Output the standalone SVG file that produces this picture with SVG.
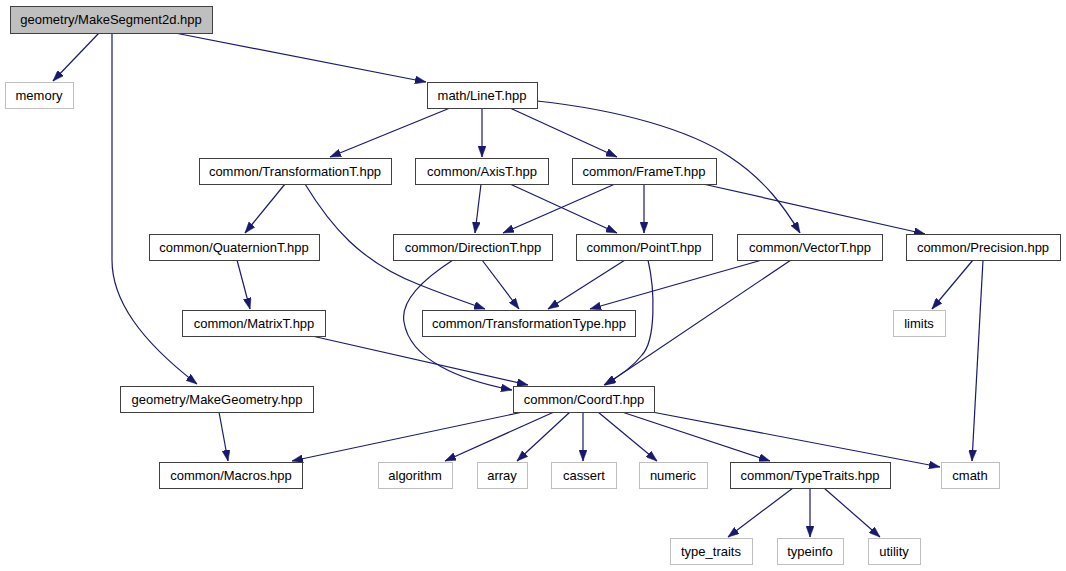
<svg xmlns="http://www.w3.org/2000/svg" width="1066" height="571" viewBox="0 0 1066 571">
<style>
.n rect{fill:#fff;stroke:#404040;stroke-width:1}
.s rect{fill:#fff;stroke:#bfbfbf;stroke-width:1}
.m rect{fill:#bfbfbf;stroke:#404040;stroke-width:1}
text{font-family:"Liberation Sans",Arial,sans-serif;font-size:13px;fill:#000;text-anchor:middle}
#edges path{fill:none;stroke:#191970;stroke-width:1.2;marker-end:url(#a)}
</style>
<defs>
<marker id="a" markerUnits="userSpaceOnUse" viewBox="0 0 11 8" markerWidth="11" markerHeight="8" refX="11" refY="4" orient="auto">
<path d="M0,0 L11,4 L0,8 z" fill="#191970" stroke="#191970" stroke-width="0.5"/>
</marker>
</defs>
<rect width="1066" height="571" fill="#fff"/>
<g id="edges">
<path d="M99,33 L53,81"/>
<path d="M175,33 L426,82"/>
<path d="M112,33 L112,260 C112,300 140,340 197,384"/>
<path d="M450,108 L330,157"/>
<path d="M482,108 L482,157"/>
<path d="M510,108 L617,157"/>
<path d="M537,101 C620,110 690,130 730,157 C765,180 785,208 800,233"/>
<path d="M615,184 L503,233"/>
<path d="M644,184 L644,233"/>
<path d="M703,184 L925,234"/>
<path d="M481,184 L475,233"/>
<path d="M510,184 L617,233"/>
<path d="M285,184 L245,233"/>
<path d="M305,184 C330,225 360,262 420,285 C445,295 465,302 485,309"/>
<path d="M237,260 L250,309"/>
<path d="M312,336 L528,385"/>
<path d="M482,260 L519,309"/>
<path d="M453,260 C425,278 400,300 404,322 C410,360 460,380 512,390"/>
<path d="M625,260 L548,309"/>
<path d="M648,260 C655,290 656,340 642,355 C632,368 618,377 604,385"/>
<path d="M762,260 L590,309"/>
<path d="M791,260 L605,385"/>
<path d="M973,260 L932,309"/>
<path d="M983,260 L972,461"/>
<path d="M219,412 L228,461"/>
<path d="M523,412 L292,461"/>
<path d="M554,412 L445,461"/>
<path d="M570,412 L517,461"/>
<path d="M583,412 L583,461"/>
<path d="M598,412 L657,461"/>
<path d="M622,412 L770,461"/>
<path d="M652,412 L940,467"/>
<path d="M793,488 L728,537"/>
<path d="M810,488 L810,537"/>
<path d="M824,488 L880,537"/>
</g>
<g id="MakeSegment2d" class="m"><rect x="10.5" y="6.5" width="202" height="27"/><text x="111" y="24">geometry/MakeSegment2d.hpp</text></g>
<g id="memory" class="s"><rect x="5.5" y="82.5" width="68" height="26"/><text x="39" y="100">memory</text></g>
<g id="LineT" class="n"><rect x="427.5" y="82.5" width="110" height="26"/><text x="482" y="100">math/LineT.hpp</text></g>
<g id="TransformationT" class="n"><rect x="199.5" y="158.5" width="192" height="26"/><text x="295" y="176">common/TransformationT.hpp</text></g>
<g id="AxisT" class="n"><rect x="415.5" y="158.5" width="133" height="26"/><text x="482" y="176">common/AxisT.hpp</text></g>
<g id="FrameT" class="n"><rect x="572.5" y="158.5" width="144" height="26"/><text x="644" y="176">common/FrameT.hpp</text></g>
<g id="QuaternionT" class="n"><rect x="149.5" y="234.5" width="170" height="26"/><text x="234" y="252">common/QuaternionT.hpp</text></g>
<g id="DirectionT" class="n"><rect x="393.5" y="234.5" width="159" height="26"/><text x="473" y="252">common/DirectionT.hpp</text></g>
<g id="PointT" class="n"><rect x="576.5" y="234.5" width="136" height="26"/><text x="644" y="252">common/PointT.hpp</text></g>
<g id="VectorT" class="n"><rect x="737.5" y="234.5" width="145" height="26"/><text x="810" y="252">common/VectorT.hpp</text></g>
<g id="Precision" class="n"><rect x="906.5" y="234.5" width="154" height="26"/><text x="983" y="252">common/Precision.hpp</text></g>
<g id="MatrixT" class="n"><rect x="182.5" y="310.5" width="143" height="26"/><text x="254" y="328">common/MatrixT.hpp</text></g>
<g id="TransformationType" class="n"><rect x="422.5" y="310.5" width="213" height="26"/><text x="529" y="328">common/TransformationType.hpp</text></g>
<g id="limits" class="s"><rect x="893.5" y="310.5" width="52" height="26"/><text x="919" y="328">limits</text></g>
<g id="MakeGeometry" class="n"><rect x="120.5" y="386.5" width="193" height="26"/><text x="217" y="404">geometry/MakeGeometry.hpp</text></g>
<g id="CoordT" class="n"><rect x="513.5" y="386.5" width="141" height="26"/><text x="584" y="404">common/CoordT.hpp</text></g>
<g id="Macros" class="n"><rect x="159.5" y="462.5" width="143" height="26"/><text x="231" y="480">common/Macros.hpp</text></g>
<g id="algorithm" class="s"><rect x="378.5" y="462.5" width="74" height="26"/><text x="415" y="480">algorithm</text></g>
<g id="array" class="s"><rect x="477.5" y="462.5" width="50" height="26"/><text x="502" y="480">array</text></g>
<g id="cassert" class="s"><rect x="551.5" y="462.5" width="65" height="26"/><text x="584" y="480">cassert</text></g>
<g id="numeric" class="s"><rect x="639.5" y="462.5" width="68" height="26"/><text x="673" y="480">numeric</text></g>
<g id="TypeTraits" class="n"><rect x="730.5" y="462.5" width="160" height="26"/><text x="810" y="480">common/TypeTraits.hpp</text></g>
<g id="cmath" class="s"><rect x="941.5" y="462.5" width="58" height="26"/><text x="970" y="480">cmath</text></g>
<g id="type_traits" class="s"><rect x="670.5" y="538.5" width="82" height="26"/><text x="711" y="556">type_traits</text></g>
<g id="typeinfo" class="s"><rect x="777.5" y="538.5" width="66" height="26"/><text x="810" y="556">typeinfo</text></g>
<g id="utility" class="s"><rect x="868.5" y="538.5" width="52" height="26"/><text x="894" y="556">utility</text></g>
</svg>
